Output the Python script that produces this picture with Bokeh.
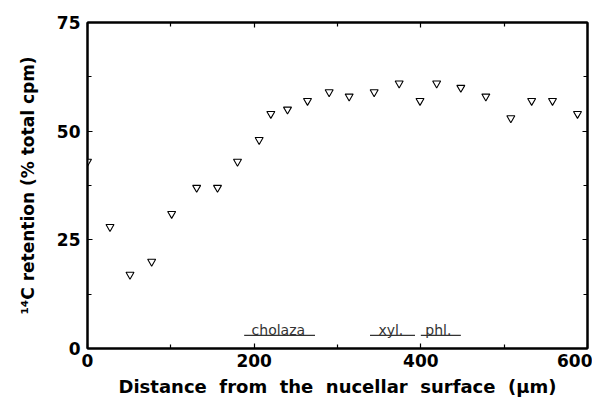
from bokeh.plotting import figure
from bokeh.models import FixedTicker, LinearAxis, Range1d, ColumnDataSource, CustomLabelingPolicy
from bokeh.core.properties import value
from bokeh.embed import file_html
from bokeh.resources import INLINE

# Data
distance_um = [0, 27, 51, 77, 101, 131, 156, 180, 206, 220, 240, 264, 290, 314,
               344, 374, 399, 419, 448, 478, 508, 533, 558, 588]
retention_pct = [43, 28, 17, 20, 31, 37, 37, 43, 48, 54, 55, 57, 59, 58,
                 59, 61, 57, 61, 60, 58, 53, 57, 57, 54]

x_ticks = [0, 200, 400, 600]
x_minor = [100, 300, 500]
y_ticks = [0, 25, 50, 75]
y_minor = [12.5, 37.5, 62.5]

region_labels = ["cholaza", "xyl.", "phl."]
region_start = [188, 339, 400]
region_end = [273, 393, 448]
region_center = [229, 364, 421]

x_title = "Distance from the nucellar surface (\u00b5m)"
y_title = "\u00b9\u2074C retention (% total cpm)"

FONT = "DejaVu Sans"
SP = "\u00a0 "

p = figure(width=592, height=399, output_backend="svg", toolbar_location=None,
           x_range=Range1d(0, 600), y_range=Range1d(0, 75),
           min_border_left=87, min_border_right=5, min_border_top=22,
           min_border_bottom=50)
p.grid.visible = False
p.outline_line_color = "black"
p.outline_line_width = 2
p.background_fill_color = "white"

hide = CustomLabelingPolicy(code="""
for (const i of Array.from(indices)) { indices.unset(i) }
return indices
""")

def style_axis(ax, ticks, minor, show_labels):
    ax.ticker = FixedTicker(ticks=ticks, minor_ticks=minor)
    ax.axis_line_color = "black"
    ax.axis_line_width = 2
    ax.major_tick_in = 5
    ax.major_tick_out = 0
    ax.minor_tick_in = 4
    ax.minor_tick_out = 0
    ax.major_tick_line_color = "black"
    ax.minor_tick_line_color = "black"
    ax.major_tick_line_width = 1.2
    ax.minor_tick_line_width = 1.2
    ax.major_label_text_font = FONT
    ax.major_label_text_font_style = "bold"
    ax.major_label_text_font_size = "17px"
    ax.major_label_text_color = "black"
    ax.axis_label_text_font = FONT
    ax.axis_label_text_font_style = "bold"
    ax.axis_label_text_font_size = "17px"
    ax.axis_label_text_color = "black"
    if not show_labels:
        ax.major_label_policy = hide
        ax.major_label_text_font_size = "1px"
        ax.major_label_standoff = 0

style_axis(p.xaxis[0], x_ticks, x_minor, True)
style_axis(p.yaxis[0], y_ticks, y_minor, True)
p.xaxis[0].axis_label = x_title.replace(" ", SP)
p.xaxis[0].axis_label_text_font_size = "18px"
p.yaxis[0].axis_label = y_title
p.xaxis[0].major_label_standoff = 5
p.xaxis[0].axis_label_standoff = 6
p.yaxis[0].major_label_standoff = 7
p.yaxis[0].axis_label_standoff = 16

ax_r = LinearAxis()
style_axis(ax_r, y_ticks, y_minor, False)
p.add_layout(ax_r, "right")
ax_t = LinearAxis()
style_axis(ax_t, x_ticks, x_minor, False)
p.add_layout(ax_t, "above")

src = ColumnDataSource(data=dict(x=distance_um, y=retention_pct))
p.scatter("x", "y", source=src, marker="inverted_triangle", size=8,
          fill_color="white", line_color="black", line_width=1.1)

reg = ColumnDataSource(data=dict(x0=region_start, x1=region_end,
                                 xc=region_center, lab=region_labels,
                                 y=[3.0] * 3, yt=[4.3] * 3))
p.segment(x0="x0", y0="y", x1="x1", y1="y", source=reg,
          line_color="#333333", line_width=1.3)
p.text(x="xc", y="yt", text="lab", source=reg, text_align="center",
       text_baseline="alphabetic", text_font=value("DejaVu Sans"),
       text_font_size="14px", text_color="#333333")

open("out.html", "w").write(file_html(p, INLINE))
